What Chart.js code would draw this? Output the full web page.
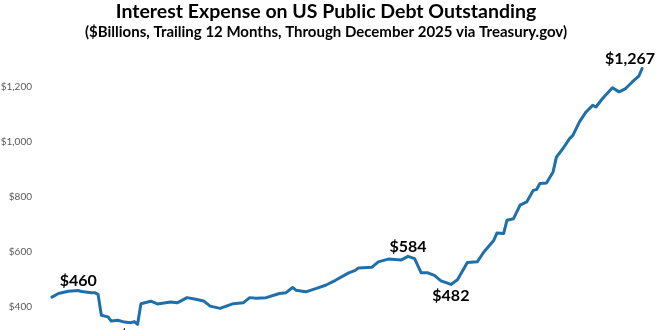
<!DOCTYPE html>
<html>
<head>
<meta charset="utf-8">
<title>Interest Expense on US Public Debt Outstanding</title>
<script src="https://cdn.jsdelivr.net/npm/chart.js@4.4.1/dist/chart.umd.min.js"></script>
<style>
  html, body { margin: 0; padding: 0; background: #fff; overflow: hidden; }
  #wrap { width: 660px; height: 330px; overflow: hidden; }
</style>
</head>
<body>
<div id="wrap"><canvas id="chart" width="660" height="420"></canvas></div>
<script>
// trailing 12 month interest expense, $ billions
const months = [
  '2011-01', '2011-03', '2011-06', '2011-09', '2011-10', '2012-01', '2012-02', '2012-03',
  '2012-04', '2012-06', '2012-07', '2012-09', '2012-11', '2013-01', '2013-02', '2013-03',
  '2013-04', '2013-07', '2013-09', '2014-01', '2014-03', '2014-06', '2014-09', '2014-11',
  '2015-01', '2015-04', '2015-08', '2015-11', '2016-01', '2016-03', '2016-06', '2016-10',
  '2016-12', '2017-02', '2017-03', '2017-06', '2017-09', '2017-12', '2018-03', '2018-07',
  '2018-09', '2018-10', '2019-02', '2019-04', '2019-07', '2019-11', '2020-01', '2020-03',
  '2020-05', '2020-07', '2020-09', '2020-11', '2021-01', '2021-02', '2021-04', '2021-07',
  '2021-10', '2021-12', '2022-03', '2022-04', '2022-06', '2022-07', '2022-09', '2022-11',
  '2023-01', '2023-03', '2023-04', '2023-05', '2023-07', '2023-09', '2023-10', '2023-12',
  '2024-02', '2024-03', '2024-05', '2024-07', '2024-09', '2024-10', '2024-12', '2025-03',
  '2025-05', '2025-07', '2025-09', '2025-11', '2025-12'
];
const expense = [
  436, 449, 457, 460, 456, 452, 452, 446,
  370, 364, 349, 352, 345, 343, 347, 337,
  412, 421, 411, 418, 415, 434, 427, 422,
  403, 395, 412, 415, 434, 432, 434, 449,
  452, 471, 461, 455, 467, 479, 497, 524,
  533, 542, 544, 564, 574, 571, 584, 576,
  524, 524, 515, 495, 487, 482, 499, 562,
  564, 600, 642, 669, 667, 715, 721, 770,
  782, 824, 827, 849, 851, 891, 945, 976,
  1012, 1024, 1073, 1109, 1133, 1127, 1158, 1197,
  1182, 1194, 1218, 1239, 1267
];
const yTicks = [400, 600, 800, 1000, 1200];

// highs and lows called out on the line
const callouts = [
  { month: '2011-09', side: 'above' },
  { month: '2013-03', side: 'below' },
  { month: '2020-01', side: 'above' },
  { month: '2021-02', side: 'below' },
  { month: '2025-12', side: 'above', align: 'right' }
];

const FONT = 'Lato';

function monthIndex(s) {
  const [y, m] = s.split('-').map(Number);
  return (y - 2011) * 12 + (m - 1);
}

function dollars(v) {
  return '$' + v.toLocaleString('en-US');
}

const calloutPlugin = {
  id: 'callouts',
  afterDatasetsDraw(chart) {
    const { ctx, scales: { x, y } } = chart;
    ctx.save();
    ctx.font = `bold 16px ${FONT}`;
    ctx.fillStyle = '#000';
    ctx.textBaseline = 'alphabetic';
    callouts.forEach(c => {
      const i = months.indexOf(c.month);
      const px = x.getPixelForValue(monthIndex(c.month));
      const py = y.getPixelForValue(expense[i]);
      ctx.textAlign = c.align || 'center';
      const tx = c.align === 'right' ? px + 13 : px;
      const ty = c.side === 'above' ? py - 4 : py + 17;
      ctx.fillText(dollars(expense[i]), tx, ty);
    });
    ctx.restore();
  }
};

new Chart(document.getElementById('chart'), {
  type: 'line',
  data: {
    datasets: [{
      data: months.map((m, i) => ({ x: monthIndex(m), y: expense[i] })),
      borderColor: '#1f6fab',
      borderWidth: 3,
      pointRadius: 0,
      tension: 0,
      borderJoinStyle: 'round',
      borderCapStyle: 'round'
    }]
  },
  options: {
    responsive: false,
    devicePixelRatio: 1,
    animation: false,
    layout: { padding: { left: 0, right: 8, top: 0, bottom: 58 } },
    scales: {
      x: { type: 'linear', min: -3, max: 182, display: false },
      y: {
        min: 200,
        max: 1300,
        afterBuildTicks: scale => { scale.ticks = yTicks.map(v => ({ value: v })); },
        afterFit: scale => { scale.width = 42; },
        ticks: {
          callback: v => dollars(v),
          color: '#595959',
          font: { family: FONT, size: 10 },
          padding: 2
        },
        grid: { display: false },
        border: { display: false }
      }
    },
    plugins: {
      legend: { display: false },
      tooltip: { enabled: false },
      title: {
        display: true,
        text: 'Interest Expense on US Public Debt Outstanding',
        color: '#000',
        font: { family: FONT, size: 19.5, weight: 'bold' },
        padding: { top: 0, bottom: 0 }
      },
      subtitle: {
        display: true,
        text: '($Billions, Trailing 12 Months, Through December 2025 via Treasury.gov)',
        color: '#000',
        font: { family: FONT, size: 15, weight: 'bold' },
        padding: { top: 0, bottom: 18 }
      }
    }
  },
  plugins: [calloutPlugin]
});
</script>
</body>
</html>
